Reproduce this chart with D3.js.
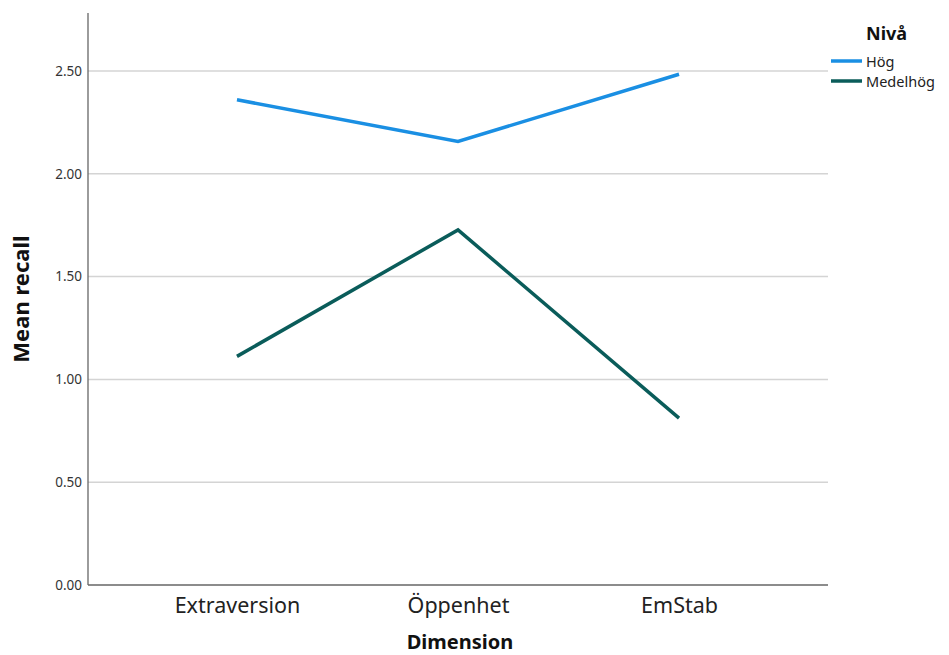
<!DOCTYPE html>
<html><head><meta charset="utf-8">
<script src="https://cdn.jsdelivr.net/npm/d3@7"></script>
<style>body{margin:0;background:#fff;font-family:"Noto Sans",sans-serif;}</style>
</head><body>
<svg id="c" width="949" height="655"></svg>
<script>
const categories = ["Extraversion", "Öppenhet", "EmStab"];
const seriesNames = ["Hög", "Medelhög"];
const hogValues = [2.36, 2.157, 2.484];
const medelhogValues = [1.112, 1.727, 0.812];
const yTicks = [0, 0.5, 1, 1.5, 2, 2.5];
const colors = ["#1a8fe3", "#0a5c5a"];

const svg = d3.select("#c");
const L = 88, R = 828, T = 13, B = 585;
const y = d3.scaleLinear().domain([0, 2.782]).range([B, T]);
const x = d3.scalePoint().domain(categories).range([L, R]).padding(0.674);

// gridlines
svg.append("g").selectAll("line").data(yTicks.filter(d => d > 0)).join("line")
  .attr("x1", L).attr("x2", R).attr("y1", d => y(d)).attr("y2", d => y(d))
  .attr("stroke", "#d4d4d4").attr("stroke-width", 1.5);

// y axis
const ya = svg.append("g").attr("transform", `translate(${L},0)`)
  .call(d3.axisLeft(y).tickValues(yTicks).tickFormat(d3.format(".2f")).tickSize(0).tickPadding(6));
ya.select(".domain").remove();
ya.selectAll("text").attr("font-family", "Noto Sans").attr("font-size", 13.5).attr("fill", "#333");
svg.append("line").attr("x1", L).attr("x2", L).attr("y1", T).attr("y2", B).attr("stroke", "#666").attr("stroke-width", 1.3);

// x axis
const xa = svg.append("g").attr("transform", `translate(0,${B})`)
  .call(d3.axisBottom(x).tickSize(0).tickPadding(13));
xa.select(".domain").remove();
xa.selectAll("text").attr("font-family", "Noto Sans").attr("font-size", 21.5).attr("fill", "#222");
svg.append("line").attr("x1", L).attr("x2", R).attr("y1", B).attr("y2", B).attr("stroke", "#666").attr("stroke-width", 1.3);

// lines
const line = d3.line().x((d, i) => x(categories[i])).y(d => y(d));
[hogValues, medelhogValues].forEach((vals, i) => {
  svg.append("path").attr("d", line(vals)).attr("fill", "none")
    .attr("stroke", colors[i]).attr("stroke-width", 3.5).attr("stroke-linejoin", "miter");
});

// axis titles
svg.append("text").attr("x", 460).attr("y", 649).attr("text-anchor", "middle")
  .attr("font-family", "Noto Sans").attr("font-weight", "bold").attr("font-size", 20).attr("fill", "#111").text("Dimension");
svg.append("text").attr("transform", "translate(29,299) rotate(-90)").attr("text-anchor", "middle")
  .attr("font-family", "Noto Sans").attr("font-weight", "bold").attr("font-size", 22).attr("fill", "#111").text("Mean recall");

// legend
svg.append("text").attr("x", 866).attr("y", 40).attr("font-family", "Noto Sans").attr("font-weight", "bold")
  .attr("font-size", 18).attr("fill", "#111").text("Nivå");
seriesNames.forEach((n, i) => {
  const yy = 61 + i * 20;
  svg.append("line").attr("x1", 831).attr("x2", 862).attr("y1", yy).attr("y2", yy)
    .attr("stroke", colors[i]).attr("stroke-width", 3.5);
  svg.append("text").attr("x", 866).attr("y", yy + 5.5).attr("font-family", "Noto Sans")
    .attr("font-size", 14.5).attr("fill", "#222").text(n);
});
</script>
</body></html>
